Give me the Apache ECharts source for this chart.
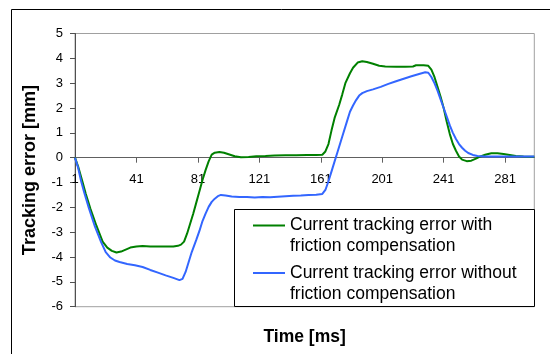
<!DOCTYPE html>
<html>
<head>
<meta charset="utf-8">
<script src="https://cdn.jsdelivr.net/npm/echarts@6/dist/echarts.min.js"></script>
<style>html,body{margin:0;padding:0;background:#fff}#c{width:550px;height:354px}</style>
</head>
<body>
<div id="c"></div>
<script>
// Time samples (ms) and tracking error values (mm)
var timeWith = [1,3,6,8,11,15,19,22,25,28,31,34,37,41,45,50,55,60,65,68,70,72,74,76,78,80,82,84,86,88,90,92,95,98,101,105,109,114,119,125,131,138,145,152,158,162,164,166,168,170,173,175,177,180,182,185,188,191,195,199,203,210,216,221,223,228,231,233,235,237,239,241,243,245,247,249,251,253,256,259,262,265,268,272,276,280,284,288,293,300];
var errWith = [0,-0.35,-1.0,-1.45,-2.05,-2.75,-3.38,-3.62,-3.75,-3.82,-3.78,-3.7,-3.62,-3.58,-3.56,-3.58,-3.58,-3.58,-3.58,-3.55,-3.5,-3.38,-3.05,-2.65,-2.25,-1.8,-1.35,-0.9,-0.5,-0.15,0.12,0.2,0.23,0.2,0.14,0.06,0.02,0.03,0.06,0.07,0.09,0.1,0.1,0.11,0.11,0.12,0.25,0.55,1.1,1.6,2.13,2.55,3.0,3.4,3.62,3.83,3.88,3.85,3.78,3.7,3.67,3.66,3.66,3.67,3.72,3.72,3.7,3.55,3.25,2.85,2.45,2.0,1.45,0.95,0.55,0.28,0.05,-0.08,-0.14,-0.12,-0.04,0.05,0.12,0.18,0.18,0.15,0.11,0.07,0.05,0.04];
var timeWithout = [1,3,5,7,10,14,18,21,24,27,30,35,40,45,50,55,60,65,69,71,73,75,77,80,82,84,86,88,90,92,94,96,99,103,108,113,118,123,128,133,138,143,148,153,158,162,164,166,168,170,172,175,178,180,182,184,186,188,191,195,200,205,210,215,220,225,229,231,233,235,237,239,241,243,245,247,249,251,253,255,257,260,263,268,280,290,300];
var errWithout = [0,-0.4,-0.95,-1.4,-2.02,-2.78,-3.4,-3.8,-4.02,-4.14,-4.2,-4.28,-4.33,-4.4,-4.52,-4.63,-4.74,-4.84,-4.93,-4.88,-4.6,-4.2,-3.8,-3.3,-2.95,-2.55,-2.25,-1.98,-1.78,-1.65,-1.55,-1.5,-1.52,-1.56,-1.58,-1.58,-1.6,-1.58,-1.59,-1.57,-1.55,-1.53,-1.52,-1.5,-1.49,-1.46,-1.3,-0.95,-0.55,-0.15,0.25,0.85,1.45,1.85,2.1,2.32,2.5,2.6,2.68,2.75,2.85,2.97,3.08,3.18,3.28,3.37,3.44,3.42,3.25,3.0,2.7,2.35,2.0,1.65,1.3,1.0,0.75,0.55,0.4,0.28,0.19,0.11,0.07,0.05,0.05,0.05,0.05];
var nameWith = 'Current tracking error with\nfriction compensation';
var nameWithout = 'Current tracking error without\nfriction compensation';
var numCategories = 300;
var categories = [];
for (var i = 1; i <= numCategories; i++) categories.push(String(i));

function pairs(ts, vs) { return ts.map(function (t, k) { return [t - 1, vs[k]]; }); }

var chart = echarts.init(document.getElementById('c'), null, {renderer: 'canvas'});
var FONT = '"Liberation Sans", Arial, sans-serif';
var legendText = {fontFamily: FONT, fontSize: 17.5, color: '#000', lineHeight: 21};
// icon: a 2px line near the top of a 32x42 box (first text line), with hairline extents fixing the box
var legendIcon = 'path://M0,0L32,0L32,0.01L0,0.01Z M0,9.5L32,9.5L32,11.5L0,11.5Z M0,41.99L32,41.99L32,42L0,42Z';
var gridTop = 33.5, gridBottom = 47.3, H = 354;
var yMin = -6, yMax = 5;
// move the x axis from the grid bottom up to the zero line
var zeroOffset = -((H - gridBottom) - (gridTop + (H - gridTop - gridBottom) * yMax / (yMax - yMin)));
chart.setOption({
  animation: false,
  backgroundColor: '#fff',
  grid: {left: 75, top: gridTop, right: 15.7, bottom: gridBottom, show: true, borderColor: '#a0a0a0', borderWidth: 1, backgroundColor: '#fff', containLabel: false, outerBoundsMode: 'none'},
  xAxis: {
    type: 'category', data: categories, boundaryGap: false, position: 'bottom', offset: zeroOffset,
    name: 'Time [ms]', nameLocation: 'middle', nameGap: 170,
    nameTextStyle: {fontFamily: FONT, fontSize: 17.5, fontWeight: 'bold', color: '#000'},
    axisLine: {onZero: false, lineStyle: {color: '#606060', width: 1}},
    axisTick: {show: true, interval: 39, length: 5, lineStyle: {color: '#606060'}},
    axisLabel: {interval: 39, fontFamily: FONT, fontSize: 13, color: '#000', margin: 15},
    splitLine: {show: false}
  },
  yAxis: {
    type: 'value', min: yMin, max: yMax, interval: 1,
    name: 'Tracking error [mm]', nameLocation: 'middle', nameGap: 36, nameRotate: 90,
    nameTextStyle: {fontFamily: FONT, fontSize: 18, fontWeight: 'bold', color: '#000'},
    axisLine: {show: true, onZero: false, lineStyle: {color: '#505050', width: 1}},
    axisTick: {show: true, length: 5, lineStyle: {color: '#505050'}},
    axisLabel: {fontFamily: FONT, fontSize: 13, color: '#000', margin: 12},
    splitLine: {show: false}
  },
  legend: [
    {data: [nameWith], orient: 'vertical', left: 253, top: 215, padding: 0, itemWidth: 32, itemHeight: 42, icon: legendIcon, itemStyle: {borderWidth: 0}, textStyle: legendText, z: 20},
    {data: [nameWithout], orient: 'vertical', left: 253, top: 262.5, padding: 0, itemWidth: 32, itemHeight: 42, icon: legendIcon, itemStyle: {borderWidth: 0}, textStyle: legendText, z: 20}
  ],
  graphic: [
    {type: 'rect', z: -10, silent: true, shape: {x: 11.5, y: 9.5, width: 600, height: 400}, style: {fill: 'none', stroke: '#000', lineWidth: 1}},
    {type: 'rect', z: 10, silent: true, shape: {x: 234.5, y: 209.5, width: 300, height: 97}, style: {fill: '#fff', stroke: '#000', lineWidth: 1}}
  ],
  series: [
    {name: nameWith, type: 'line', data: pairs(timeWith, errWith), showSymbol: false, symbol: 'none', lineStyle: {color: '#008000', width: 2}, itemStyle: {color: '#008000'}, z: 2},
    {name: nameWithout, type: 'line', data: pairs(timeWithout, errWithout), showSymbol: false, symbol: 'none', lineStyle: {color: '#3366ff', width: 2}, itemStyle: {color: '#3366ff'}, z: 3}
  ]
});
</script>
</body>
</html>
